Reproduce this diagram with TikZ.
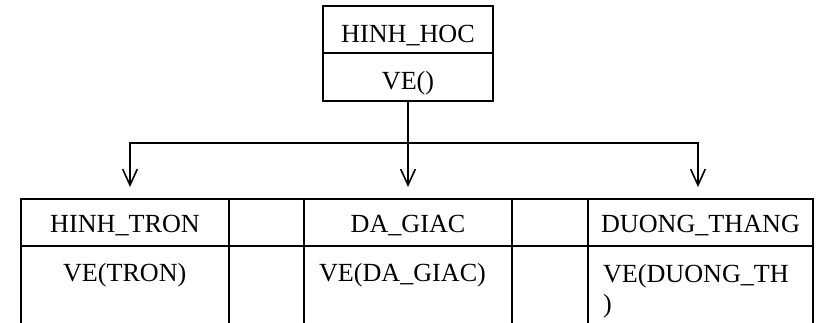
\documentclass[tikz,border=0pt]{standalone}
\usepackage{fontspec}
\setmainfont{Liberation Serif}
\usetikzlibrary{arrows.meta}
\begin{document}
\begin{tikzpicture}[x=0.75pt, y=-0.75pt, line width=1.5pt,
    every node/.style={font=\fontsize{19.6pt}{22.5pt}\selectfont, inner sep=0pt},
    box/.style={draw, outer sep=0pt, minimum width=127.5pt, minimum height=35.6pt, text height=19pt, text depth=0pt},
    head/.style={outer sep=0pt, minimum height=35.25pt, text height=15.2pt, text depth=0pt},
    link/.style={line width=1.2pt, -{Straight Barb[length=12pt, width=11pt]}, shorten >=9pt}]
  \useasboundingbox (0,0) rectangle (820,322);
  % base class
  \node[box] (hhname) at (408,29.5) {HINH\_HOC};
  \node[box, anchor=north] (hhve) at (hhname.south) {VE()};
  % derived classes
  \node[head, minimum width=156pt] (trhead) at (125,222.5) {HINH\_TRON};
  \node[head, minimum width=156pt] (dghead) at (408,222.5) {DA\_GIAC};
  \node[head, minimum width=168.75pt] (dthead) at (700.5,222.5) {DUONG\_THANG};
  \node[anchor=base west] (trve) at (62,281) {VE(TRON)};
  \node[anchor=base west] (dgve) at (318,281) {VE(DA\_GIAC)};
  \node[anchor=base west, align=left] (dtve) at (602,312) {VE(DUONG\_TH\\)};
  \draw[line cap=rect] (21,199) -- (813,199) (21,246) -- (813,246);
  \foreach \x in {21,229,304,512,588,813}
    \draw[line cap=rect] (\x,199) -- (\x,322);
  % inheritance arrows
  \coordinate (bus) at (408,143);
  \draw[link] (hhve.south) -- (dghead.north);
  \draw[link] (bus) -| ([xshift=3.75pt]trhead.north);
  \draw[link] (bus) -| ([xshift=-1.9pt]dthead.north);
\end{tikzpicture}
\end{document}
